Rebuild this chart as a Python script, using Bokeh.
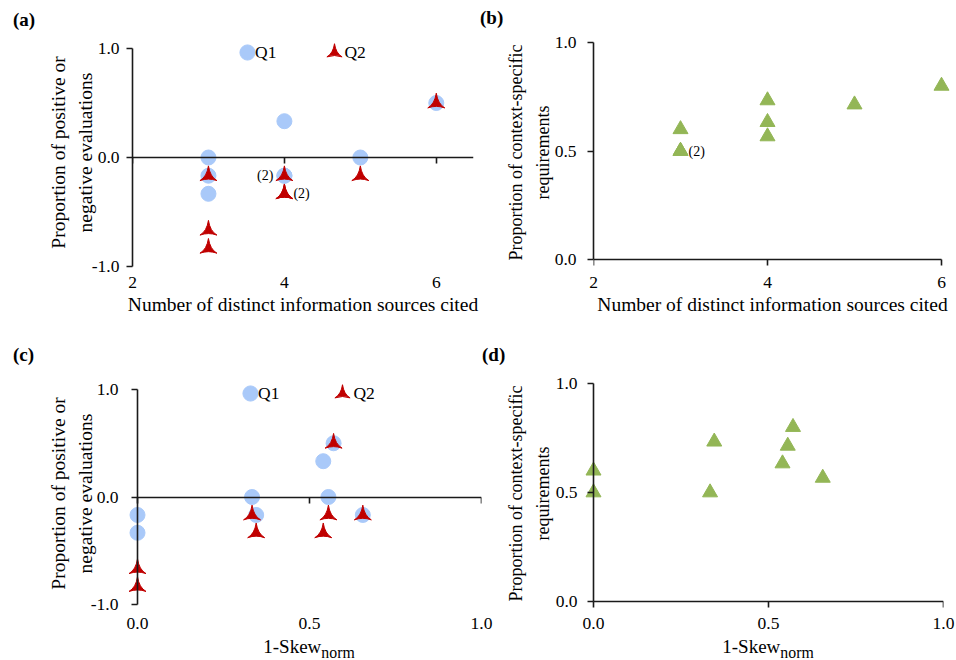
from bokeh.plotting import figure
from bokeh.models import (Range1d, LinearAxis, FixedTicker, PrintfTickFormatter,
                          Legend, LegendItem, Div)
from bokeh.layouts import row, column
from bokeh.embed import file_html
from bokeh.resources import INLINE
from bokeh.core.properties import value

# ---------------- data ----------------
SOURCES_TICKS = [2, 4, 6]
SKEW_TICKS = [0.0, 0.5, 1.0]
EVAL_TICKS = [-1.0, 0.0, 1.0]
CTX_TICKS = [0.0, 0.5, 1.0]
SERIES = ["Q1", "Q2"]

# (a) evaluations vs number of distinct sources
A_Q1_X = [3, 3, 3, 4, 4, 4, 5, 6]
A_Q1_Y = [0.0, -0.167, -0.333, 0.333, -0.167, -0.167, 0.0, 0.5]
A_Q2_X = [3, 3, 3, 4, 4, 4, 5, 6]
A_Q2_Y = [-0.167, -0.667, -0.833, -0.167, -0.333, -0.333, -0.167, 0.5]
A_NOTES = [(4, -0.167, "(2)", "right"), (4, -0.333, "(2)", "left")]

# (b) context-specific requirements vs number of sources
B_X = [3, 3, 3, 4, 4, 4, 5, 6]
B_Y = [0.6, 0.5, 0.5, 0.733, 0.633, 0.567, 0.714, 0.8]
B_NOTES = [(3, 0.5, "(2)", "left")]

# (c) evaluations vs 1-Skew_norm
C_Q1_X = [0.0, 0.0, 0.333, 0.345, 0.54, 0.555, 0.57, 0.655]
C_Q1_Y = [-0.167, -0.333, 0.0, -0.167, 0.333, 0.0, 0.5, -0.167]
C_Q2_X = [0.0, 0.0, 0.333, 0.345, 0.54, 0.555, 0.57, 0.655]
C_Q2_Y = [-0.667, -0.833, -0.167, -0.333, -0.333, -0.167, 0.5, -0.167]

# (d) context-specific requirements vs 1-Skew_norm
D_X = [0.0, 0.0, 0.333, 0.345, 0.54, 0.555, 0.57, 0.655]
D_Y = [0.6, 0.5, 0.5, 0.733, 0.633, 0.714, 0.8, 0.567]

EVAL_TITLE = "Proportion of positive or\nnegative evaluations"
CTX_TITLE = "Proportion of context-specific\nrequirements"
SRC_TITLE = "Number of distinct information sources cited"
SKEW_TITLE = "1-Skew<sub>norm</sub>"
PANELS = ["(a)", "(b)", "(c)", "(d)"]

# ---------------- style ----------------
FONT = "Liberation Serif"
BLUE = "#A9C9F9"
RED = "#C00000"
GREEN = "#93B656"
AX = "#1A1A1A"
LW = 1.6
TICK_FS = "17.5px"
TITLE_FS = "19.5px"
CTX_FS = "18px"
NOTE_FS = "14px"


def base_fig(w, h, xr, yr, left, right, top, bottom):
    p = figure(width=w, height=h, x_range=Range1d(*xr), y_range=Range1d(*yr),
               output_backend="svg", toolbar_location=None,
               min_border_left=left, min_border_right=right,
               min_border_top=top, min_border_bottom=bottom)
    p.xgrid.visible = False
    p.ygrid.visible = False
    p.outline_line_color = None
    p.background_fill_color = "white"
    p.border_fill_color = "white"
    return p


def style_axis(ax, ticks, fmt, tick_out, standoff, line=True, bounds=None):
    ax.ticker = FixedTicker(ticks=ticks, minor_ticks=[])
    if fmt:
        ax.formatter = PrintfTickFormatter(format=fmt)
    if bounds is not None:
        ax.bounds = bounds
    ax.minor_tick_line_color = None
    ax.major_tick_in = 0
    ax.major_tick_out = tick_out
    ax.major_label_standoff = standoff
    ax.axis_line_color = AX if line else None
    ax.axis_line_width = LW
    ax.major_tick_line_color = AX if tick_out > 0 else None
    ax.major_tick_line_width = LW
    ax.major_label_text_font = FONT
    ax.major_label_text_font_size = TICK_FS
    ax.major_label_text_color = "black"


def axis_title(ax, text, standoff, size=TITLE_FS, lh=1.28):
    ax.axis_label = text
    ax.axis_label_text_font = FONT
    ax.axis_label_text_font_size = size
    ax.axis_label_text_font_style = "normal"
    ax.axis_label_text_color = "black"
    ax.axis_label_standoff = standoff
    ax.axis_label_text_line_height = lh


def line_axis(p, place, ticks, bounds=None):
    """Unlabelled axis line drawn at data coordinate 0 (ticks pointing toward the frame)."""
    ax = LinearAxis(fixed_location=0, ticker=FixedTicker(ticks=ticks, minor_ticks=[]))
    if bounds is not None:
        ax.bounds = bounds
    ax.major_tick_in = 6
    ax.major_tick_out = 0
    ax.minor_tick_line_color = None
    ax.major_label_text_font_size = "0px"
    ax.major_label_text_alpha = 0
    ax.major_label_standoff = 0
    ax.axis_line_color = AX
    ax.axis_line_width = LW
    ax.major_tick_line_color = AX
    ax.major_tick_line_width = LW
    p.add_layout(ax, place)


def add_notes(p, notes, dl, dr):
    for x, y, txt, align in notes:
        p.text(x=[x], y=[y], text=[txt], text_align=align, text_baseline="middle",
               x_offset=(-dl if align == "right" else dr),
               text_font=value(FONT), text_font_size=NOTE_FS, text_color="black")


def add_legend(p, r1, r2, glyph_loc, glyph_spacing, text_loc, text_spacing):
    # markers (legend glyphs only)
    marks = Legend(items=[LegendItem(label="", renderers=[r1]),
                          LegendItem(label="", renderers=[r2])],
                   location=glyph_loc, orientation="horizontal",
                   glyph_width=38, glyph_height=38, label_standoff=0, label_width=0,
                   spacing=glyph_spacing, padding=0, margin=0,
                   border_line_color=None, background_fill_alpha=0,
                   label_text_font_size="1px")
    p.add_layout(marks)
    # labels Q1 / Q2 placed close to their markers
    ghost = p.scatter(x=[], y=[], marker="circle", size=1, fill_alpha=0, line_alpha=0)
    texts = Legend(items=[LegendItem(label=SERIES[0], renderers=[ghost]),
                          LegendItem(label=SERIES[1], renderers=[ghost])],
                   location=text_loc, orientation="horizontal",
                   glyph_width=0, glyph_height=38, label_standoff=0, label_width=0,
                   spacing=text_spacing, padding=0, margin=0,
                   border_line_color=None, background_fill_alpha=0,
                   label_text_font=FONT, label_text_font_size=TICK_FS,
                   label_text_baseline="middle", label_text_color="black")
    p.add_layout(texts)


def text_strip(width, height, items, size, weight, lh):
    spans = "".join(
        f'<div style="position:absolute;left:{x}px;top:{y}px;width:{w}px;'
        f'text-align:{al};white-space:nowrap;">{t}</div>'
        for (t, x, y, w, al) in items)
    html = (f'<div style="position:relative;width:{width}px;height:{height}px;'
            f'font-family:\'{FONT}\';font-size:{size};font-weight:{weight};'
            f'line-height:{lh};color:#000;">{spans}</div>')
    return Div(text=html, width=width, height=height, margin=0)


# ---------------- (a) ----------------
A_PX = 109.0  # pixels per unit on y
pa = base_fig(480, 306, (2, 6.49), (-1 - 2 / A_PX, 1 + 12 / A_PX), 132, 7, 6, 68)
style_axis(pa.yaxis[0], EVAL_TICKS, "%.1f", 6, 7, bounds=(-1, 1))
axis_title(pa.yaxis[0], EVAL_TITLE, -7)
style_axis(pa.xaxis[0], SOURCES_TICKS, None, 0, 8, line=False)
axis_title(pa.xaxis[0], SRC_TITLE, 3)
line_axis(pa, "above", SOURCES_TICKS)
ra1 = pa.scatter(A_Q1_X, A_Q1_Y, marker="circle", size=15, fill_color=BLUE, line_color=BLUE)
ra2 = pa.scatter(A_Q2_X, A_Q2_Y, marker="triangle_pin", size=17, fill_color=RED, line_color=RED)
add_notes(pa, A_NOTES, 11, 9)
add_legend(pa, ra1, ra2, (96, 197), 49, (123, 197), 68)

# ---------------- (b) ----------------
B_PX = 217.0
pb = base_fig(476, 306, (2, 6 + 10 / 87), (-9 / B_PX, 1 + 6 / B_PX), 113, 5, 6, 68)
style_axis(pb.yaxis[0], CTX_TICKS, "%.1f", 6, 11, bounds=(0, 1))
axis_title(pb.yaxis[0], CTX_TITLE, -1, size=CTX_FS, lh=1.33)
style_axis(pb.xaxis[0], SOURCES_TICKS, None, 0, 8, line=False)
axis_title(pb.xaxis[0], SRC_TITLE, 3)
line_axis(pb, "above", SOURCES_TICKS, (2, 6))
pb.scatter(B_X, B_Y, marker="triangle", size=15, fill_color=GREEN, line_color=GREEN)
add_notes(pb, B_NOTES, 8, 8)

# ---------------- (c) ----------------
C_PX = 107.5
pc = base_fig(494, 268, (-10 / 344, 1.0), (-1 - 5 / C_PX, 1 + 12 / C_PX), 127, 13, 5, 31)
style_axis(pc.yaxis[0], EVAL_TICKS, "%.1f", 0, 9, line=False)
axis_title(pc.yaxis[0], EVAL_TITLE, -8)
style_axis(pc.xaxis[0], SKEW_TICKS, "%.1f", 0, 8, line=False)
line_axis(pc, "above", SKEW_TICKS, (0, 1))
line_axis(pc, "right", EVAL_TICKS, (-1, 1))
rc1 = pc.scatter(C_Q1_X, C_Q1_Y, marker="circle", size=15, fill_color=BLUE, line_color=BLUE)
rc2 = pc.scatter(C_Q2_X, C_Q2_Y, marker="triangle_pin", size=17, fill_color=RED, line_color=RED)
add_legend(pc, rc1, rc2, (104, 197), 54, (131, 197), 74)

# ---------------- (d) ----------------
D_PX = 218.0
pd = base_fig(462, 268, (-10 / 350, 1.0), (-8 / D_PX, 1 + 6 / D_PX), 89, 13, 5, 31)
style_axis(pd.yaxis[0], CTX_TICKS, "%.1f", 0, 6, line=False)
axis_title(pd.yaxis[0], CTX_TITLE, 0, size=CTX_FS, lh=1.33)
style_axis(pd.xaxis[0], SKEW_TICKS, "%.1f", 0, 8, line=False)
line_axis(pd, "above", SKEW_TICKS, (0, 1))
line_axis(pd, "right", CTX_TICKS, (0, 1))
pd.scatter(D_X, D_Y, marker="triangle", size=15, fill_color=GREEN, line_color=GREEN)

# ---------------- text strips ----------------
top_strip = text_strip(956, 30, [(PANELS[0], 13, 9, 40, "left"), (PANELS[1], 480, 7, 40, "left")],
                       "19px", "bold", "22px")
mid_strip = text_strip(956, 36, [(PANELS[2], 13, 8, 40, "left"), (PANELS[3], 482, 8, 40, "left")],
                       "19px", "bold", "22px")
bot_strip = text_strip(956, 20, [(SKEW_TITLE, 209, -3, 200, "center"), (SKEW_TITLE, 668, -3, 200, "center")],
                       "19px", "normal", "20px")

layout = column(top_strip, row(pa, pb), mid_strip, row(pc, pd), bot_strip)
open("out.html", "w").write(file_html(layout, INLINE))
